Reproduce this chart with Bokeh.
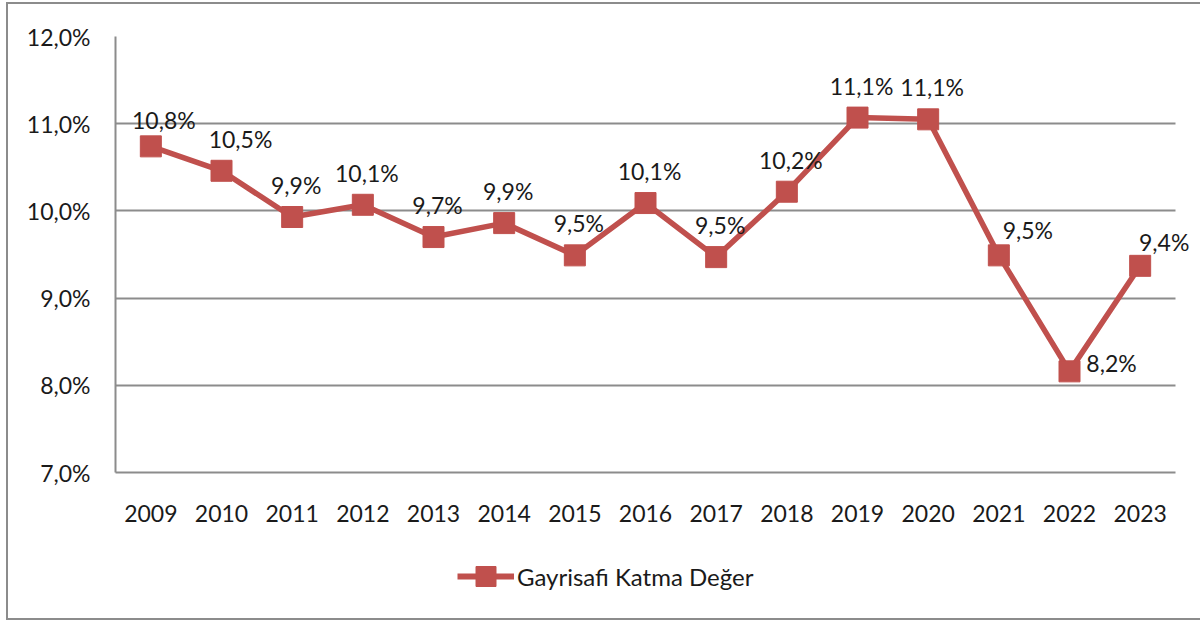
from bokeh.plotting import figure
from bokeh.layouts import column
from bokeh.models import ColumnDataSource, Legend, LegendItem, FixedTicker
from bokeh.core.properties import value
from bokeh.embed import file_html
from bokeh.resources import INLINE

years = [2009, 2010, 2011, 2012, 2013, 2014, 2015, 2016, 2017, 2018, 2019, 2020, 2021, 2022, 2023]
values = [10.74, 10.46, 9.93, 10.07, 9.70, 9.86, 9.49, 10.09, 9.47, 10.22, 11.07, 11.05, 9.49, 8.16, 9.37]
labels = ["10,8%", "10,5%", "9,9%", "10,1%", "9,7%", "9,9%", "9,5%", "10,1%", "9,5%", "10,2%",
          "11,1%", "11,1%", "9,5%", "8,2%", "9,4%"]
y_ticks = [7, 8, 9, 10, 11, 12]
y_tick_labels = ["7,0%", "8,0%", "9,0%", "10,0%", "11,0%", "12,0%"]
series_name = "Gayrisafi Katma Değer"

RED = "#C0504D"
GRAY = "#8c8c8c"
TXT = "#1a1a1a"
FONT = "Lato"

W = 1192            # content width
H_MAIN = 536
H_LEG = 78
PLOT_W = 1060       # visible plot area width
EXTRA_R = 25        # frame space to the right of the plot area (room for labels)

x0, x1 = years[0] - 0.5, years[-1] + 0.5
px_per = PLOT_W / (x1 - x0)

# label placement (Excel-like): mostly above, a few to the right
dx = {2009: 13, 2010: 19, 2021: 29, 2022: 42, 2023: 24}
dy = {2009: 26, 2021: 25, 2022: 8, 2023: 24}
x_off = [dx.get(y, 4) for y in years]
y_off = [-dy.get(y, 32) for y in years]

has_cross = "cross_bounds" in figure().ygrid[0].properties()
if not has_cross:
    EXTRA_R_FRAME = 0
    x_off[-1] = 8
else:
    EXTRA_R_FRAME = EXTRA_R

src = ColumnDataSource(dict(x=years, y=values, lab=labels, xo=x_off, yo=y_off))

p = figure(width=W, height=H_MAIN, output_backend="svg", toolbar_location=None,
           x_range=(x0, x1 + EXTRA_R_FRAME / px_per), y_range=(7, 12),
           min_border_left=107, min_border_right=W - 107 - PLOT_W - EXTRA_R_FRAME,
           min_border_top=32, min_border_bottom=68)
p.outline_line_color = None
p.background_fill_color = "white"

p.xgrid.grid_line_color = None
p.ygrid.grid_line_color = GRAY
p.ygrid.grid_line_width = 2
if has_cross:
    p.ygrid.cross_bounds = (x0, x1)
p.yaxis.ticker = FixedTicker(ticks=y_ticks)
p.yaxis.major_label_overrides = {t: l for t, l in zip(y_ticks, y_tick_labels)}
p.xaxis.ticker = FixedTicker(ticks=years)
p.xaxis.major_label_overrides = {y: str(y) for y in years}
p.xaxis.bounds = (x0, x1)

for ax in (p.xaxis[0], p.yaxis[0]):
    ax.axis_line_color = GRAY
    ax.axis_line_width = 2
    ax.major_tick_line_color = None
    ax.minor_tick_line_color = None
    ax.major_label_text_font = FONT
    ax.major_label_text_font_size = "23px"
    ax.major_label_text_color = TXT
p.yaxis.major_label_standoff = 19
p.xaxis.major_label_standoff = 26

p.line("x", "y", source=src, line_color=RED, line_width=5.5)
p.scatter("x", "y", source=src, marker="square", size=21, fill_color=RED, line_color=RED)

p.text("x", "y", text="lab", source=src, x_offset="xo", y_offset="yo",
       text_font=value(FONT), text_font_size="23px", text_color=TXT,
       text_align="center", text_baseline="middle")

# legend strip below the chart (series drawn out of view; only its legend shows)
# (its frame is aligned with the main chart's frame by the column layout)
leg = figure(width=W, height=H_LEG, output_backend="svg", toolbar_location=None,
             x_range=(0, 1), y_range=(0, 1), min_border=0, min_border_bottom=10)
leg.axis.visible = False
leg.grid.visible = False
leg.outline_line_color = None
l1 = leg.line("x", "y", source=src, line_color=RED, line_width=6)
l2 = leg.scatter("x", "y", source=src, marker="square", size=20, fill_color=RED, line_color=RED)
legend = Legend(items=[LegendItem(label=series_name, renderers=[l1, l2])],
                location=(342, 7), orientation="horizontal",
                label_text_font=FONT, label_text_font_size="24px", label_text_color=TXT,
                border_line_color=None, background_fill_alpha=0, glyph_width=57, glyph_height=50,
                label_standoff=3, margin=0, padding=2)
leg.add_layout(legend, "center")

layout = column(p, leg, spacing=0, margin=(2, 0, 0, 6),
                styles={"border-left": "2px solid #8c8c8c",
                        "border-top": "2px solid #8c8c8c",
                        "border-bottom": "2px solid #8c8c8c"})

open("out.html", "w").write(file_html(layout, INLINE))
